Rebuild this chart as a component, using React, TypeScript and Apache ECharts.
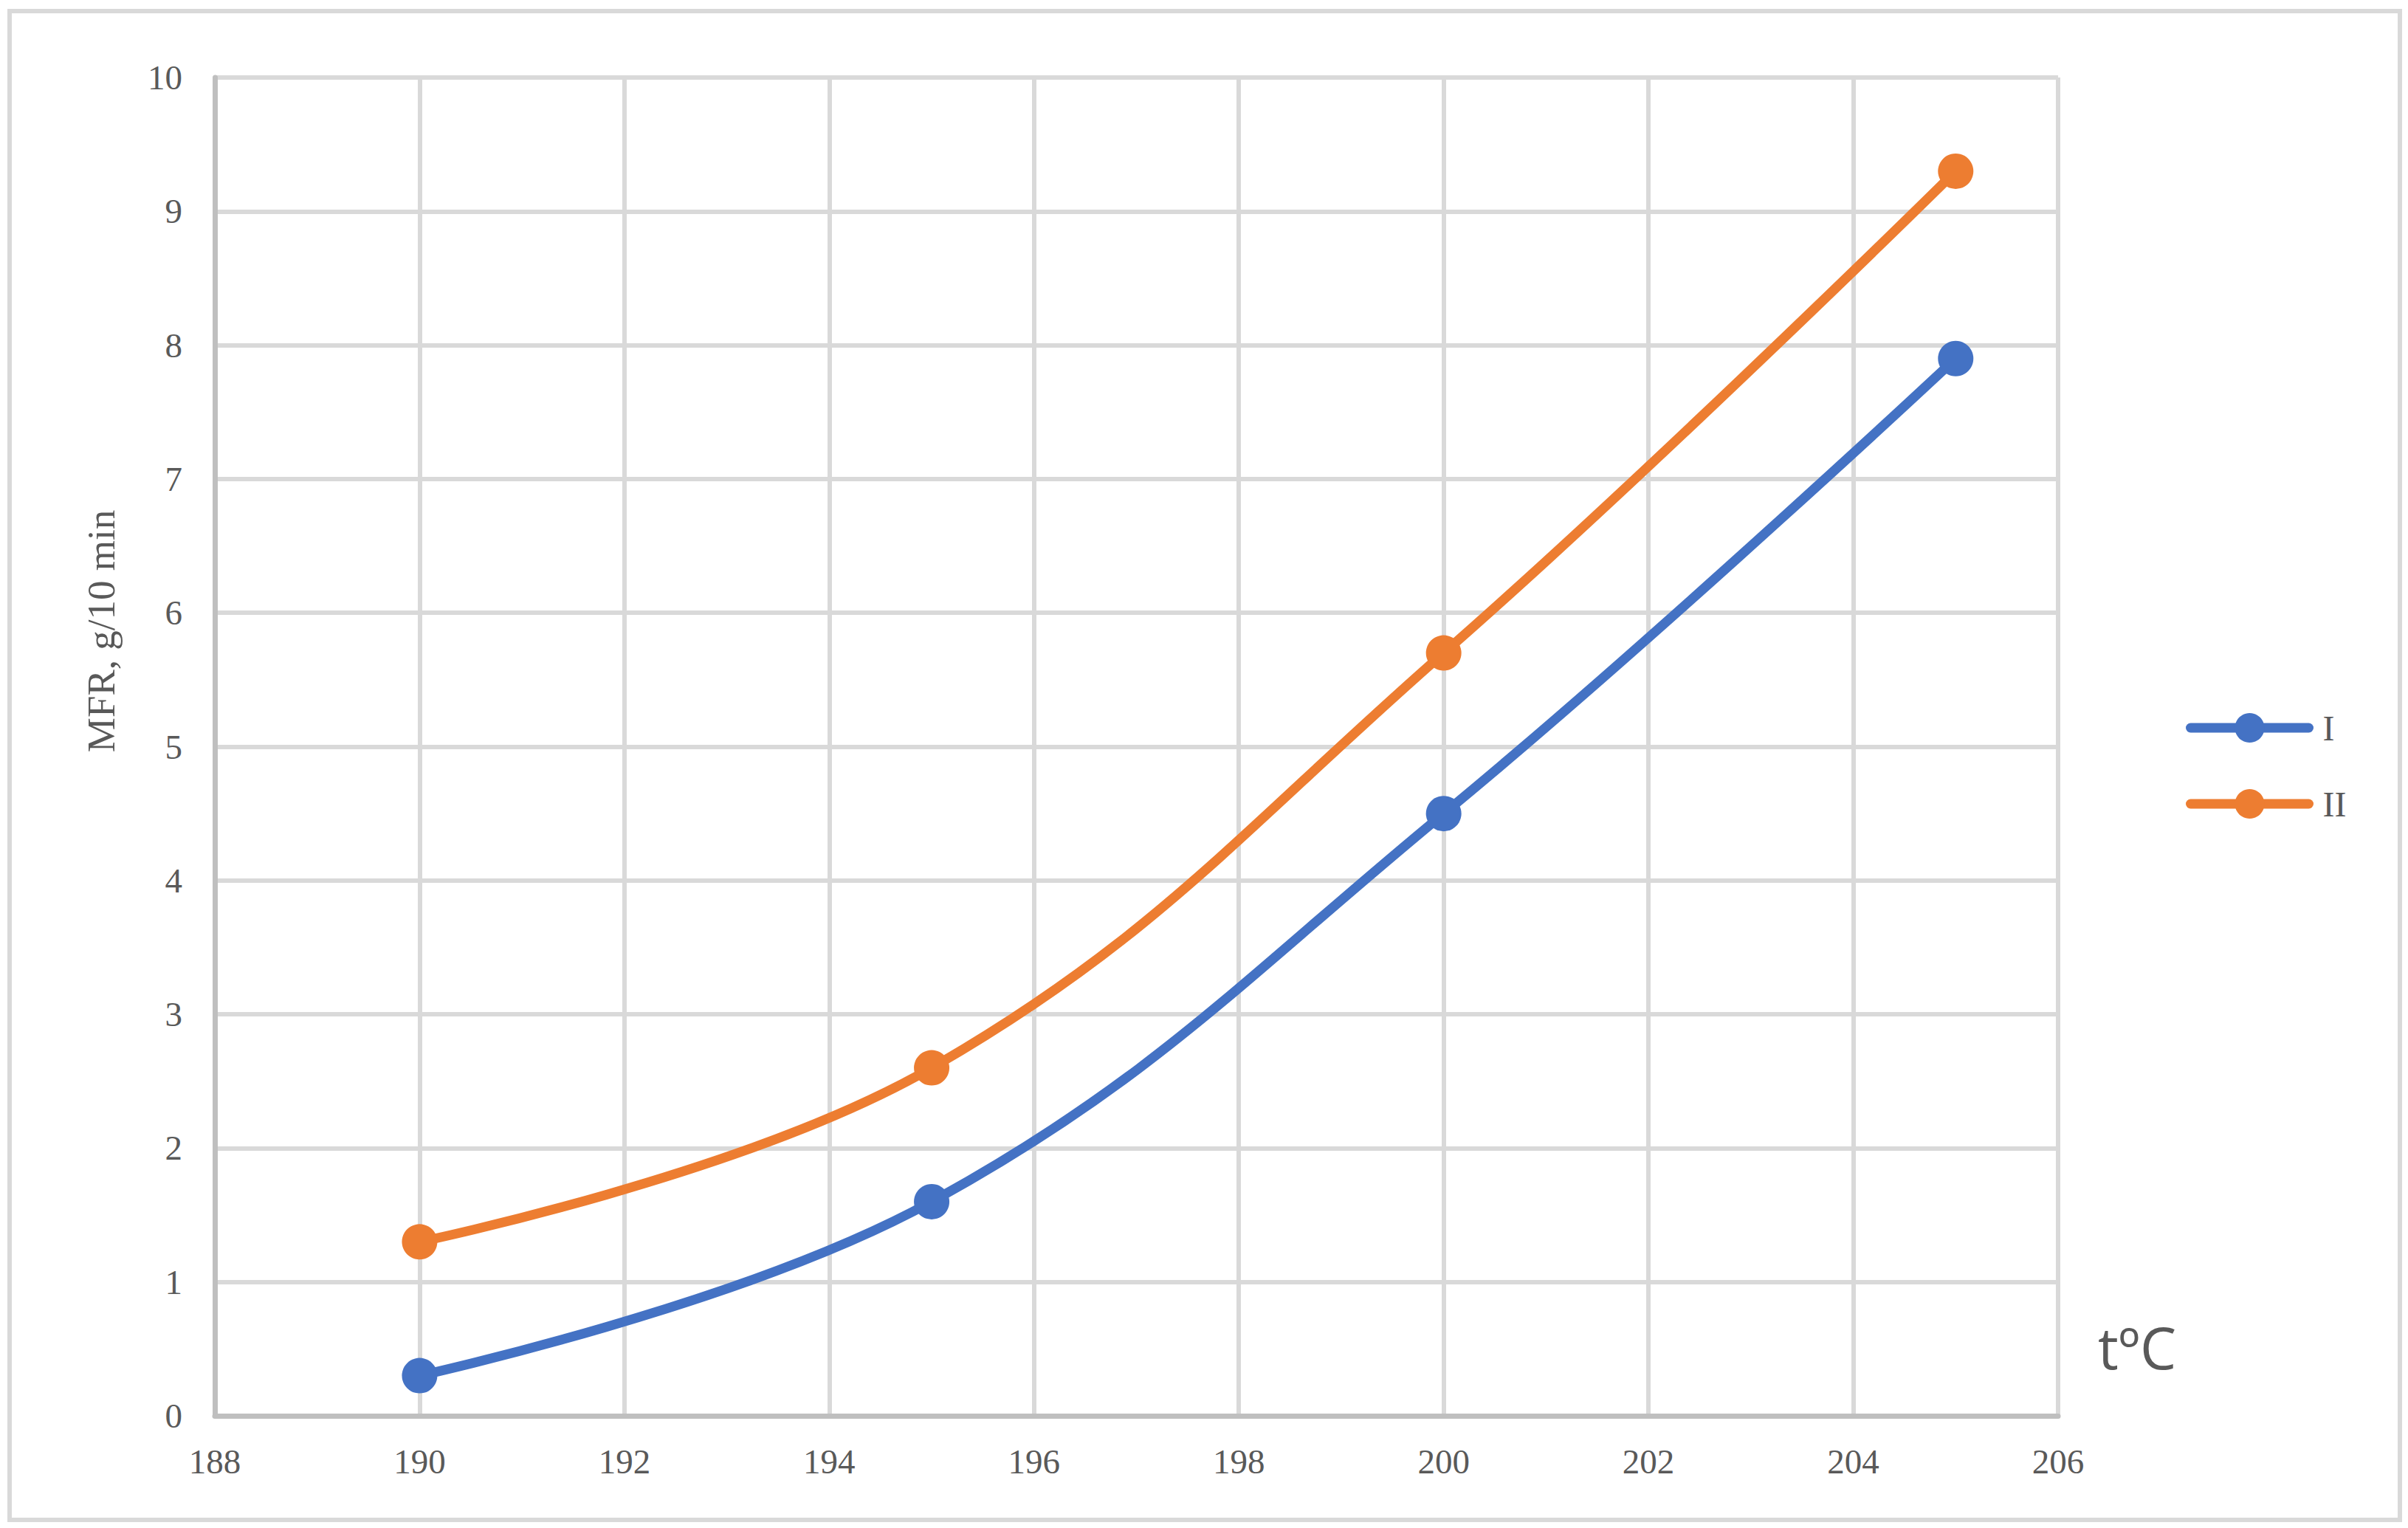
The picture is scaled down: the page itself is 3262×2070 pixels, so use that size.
import React, { useEffect, useRef } from "react";
import * as echarts from "echarts";

const temperatures = [190, 195, 200, 205];
const seriesI = [0.3, 1.6, 4.5, 7.9];
const seriesII = [1.3, 2.6, 5.7, 9.3];
const seriesNames = ["I", "II"];
const colors = ["#4472c4", "#ed7d31"];
const yTitle = "MFR, g/10 min";
const xTitle = "t\u00baC";

const W = 3262;
const H = 2070;
const TEXT = "#595959";
const SERIF = "Liberation Serif, Times New Roman, serif";

export default function App() {
  const ref = useRef<HTMLDivElement>(null);
  useEffect(() => {
    if (!ref.current) return;
    const chart = echarts.init(ref.current, undefined, { renderer: "svg" });
    const mk = (vals: number[]) => temperatures.map((t, i) => [t, vals[i]]);
    chart.setOption({
      animation: false,
      backgroundColor: "#ffffff",
      grid: { left: 291, right: W - 2788, top: 105, bottom: H - 1918, containLabel: false },
      xAxis: {
        type: "value",
        min: 188,
        max: 206,
        interval: 2,
        axisLine: { show: true, lineStyle: { color: "#bfbfbf", width: 7 } },
        axisTick: { show: false },
        axisLabel: { color: TEXT, fontSize: 47, fontFamily: SERIF, margin: 38 },
        splitLine: { show: true, lineStyle: { color: "#d9d9d9", width: 6 } },
      },
      yAxis: {
        type: "value",
        min: 0,
        max: 10,
        interval: 1,
        axisLine: { show: true, lineStyle: { color: "#bfbfbf", width: 7 } },
        axisTick: { show: false },
        axisLabel: { color: TEXT, fontSize: 47, fontFamily: SERIF, margin: 44 },
        splitLine: { show: true, lineStyle: { color: "#d9d9d9", width: 6 } },
      },
      legend: {
        orient: "vertical",
        left: 2956,
        top: 957,
        itemWidth: 160,
        itemHeight: 50,
        itemGap: 55,
        textStyle: { color: TEXT, fontSize: 48, fontFamily: SERIF, padding: [0, 0, 0, 14] },
        lineStyle: { width: 13, cap: "round" },
        data: seriesNames,
      },
      series: [
        {
          name: seriesNames[0],
          type: "line",
          data: mk(seriesI),
          smooth: 0.4,
          symbol: "circle",
          symbolSize: 48,
          color: colors[0],
          lineStyle: { width: 13, color: colors[0], cap: "round" },
          itemStyle: { color: colors[0] },
        },
        {
          name: seriesNames[1],
          type: "line",
          data: mk(seriesII),
          smooth: 0.4,
          symbol: "circle",
          symbolSize: 48,
          color: colors[1],
          lineStyle: { width: 13, color: colors[1], cap: "round" },
          itemStyle: { color: colors[1] },
        },
      ],
      graphic: [
        {
          type: "rect",
          shape: { x: 13, y: 15, width: 3238, height: 2044 },
          style: { fill: "none", stroke: "#d9d9d9", lineWidth: 6 },
          silent: true,
        },
        {
          type: "text",
          x: 137,
          y: 855,
          rotation: Math.PI / 2,
          style: {
            text: yTitle,
            fill: TEXT,
            font: `53px ${SERIF}`,
            textAlign: "center",
            textVerticalAlign: "middle",
          },
        },
        {
          type: "text",
          x: 2895,
          y: 1825,
          style: {
            text: xTitle,
            fill: TEXT,
            font: `78px Open Sans, Liberation Sans, sans-serif`,
            textAlign: "center",
            textVerticalAlign: "middle",
          },
        },
      ],
    });
    return () => chart.dispose();
  }, []);
  return (
    <div
      ref={ref}
      style={{ position: "absolute", left: 0, top: 0, width: W, height: H }}
    />
  );
}
